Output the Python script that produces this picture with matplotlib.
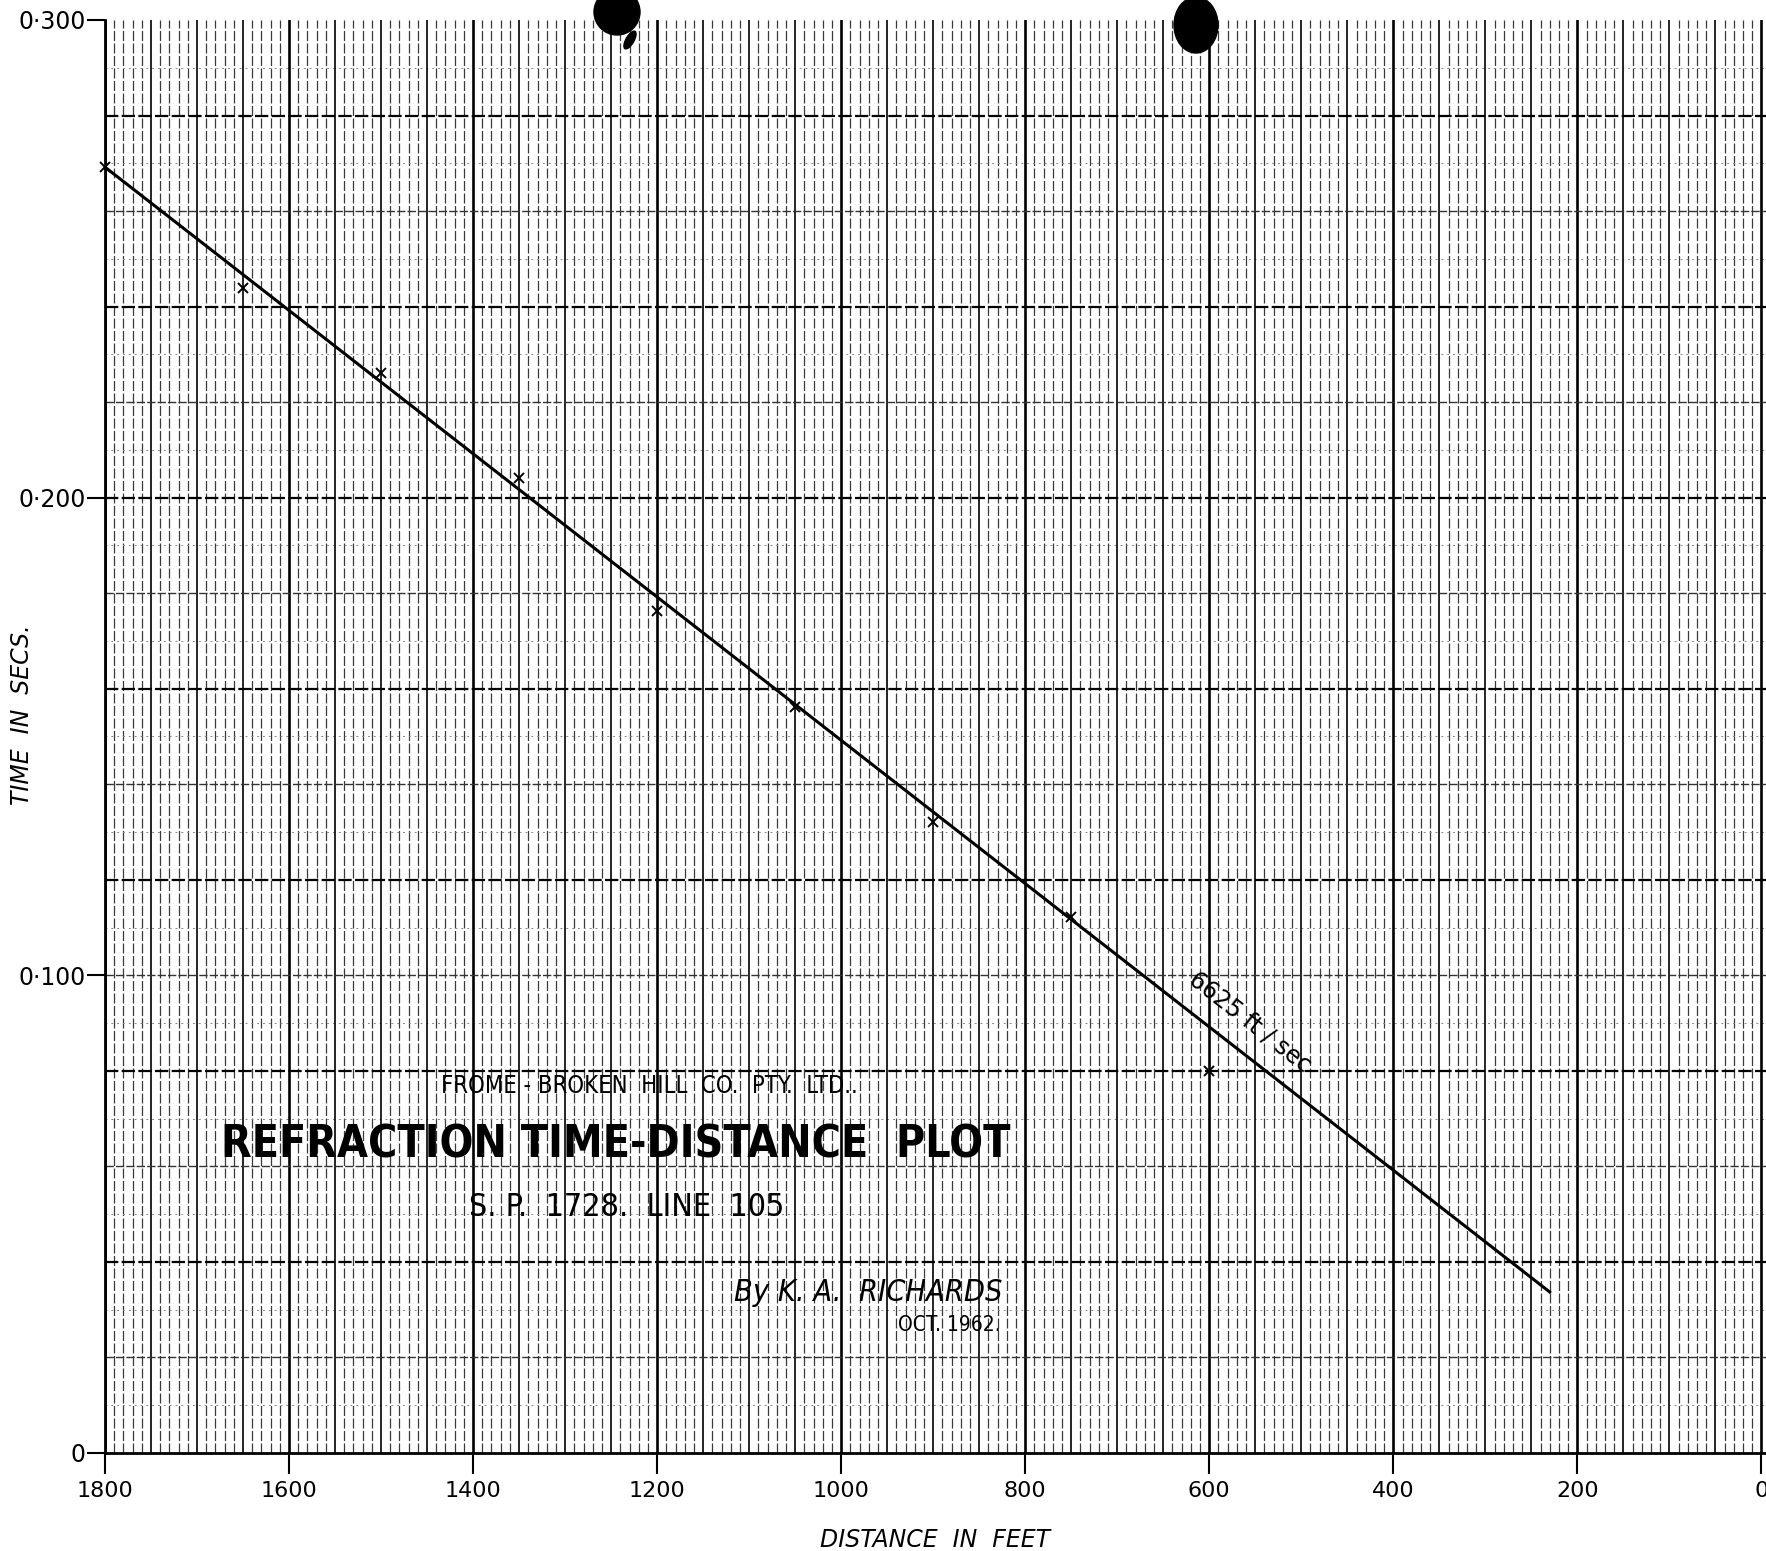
import numpy as np
import matplotlib
matplotlib.use('Agg')
import matplotlib.pyplot as plt
from matplotlib.patches import Ellipse
from matplotlib.transforms import IdentityTransform

# refraction shot readings
dist = [1800, 1650, 1500, 1350, 1200, 1050, 900, 750, 600]
time = [0.2692, 0.2439, 0.2261, 0.2041, 0.1762, 0.1561, 0.1320, 0.1123, 0.0800]

# fitted velocity line
fit_dist = [1800, 230]
fit_time = [0.2692, 0.0337]

xticks = [1800, 1600, 1400, 1200, 1000, 800, 600, 400, 200, 0]
yticks = [0, 0.1, 0.2, 0.3]
ylabels = ['0', '0·100', '0·200', '0·300']

plt.rcParams['font.family'] = ['DejaVu Sans']

fig = plt.figure(figsize=(17.66, 15.51), dpi=100)
ax = fig.add_axes([105/1766, 98/1551, 1661/1766, 1433/1551])
ax.set_xlim(1800, -5)
ax.set_ylim(0, 0.3)

# graph paper
for v in np.arange(0, 1801, 10):
    if v % 50 == 0:
        continue
    ax.axvline(v, color='#3a3a3a', lw=0.9, ls=(0, (8, 2)), zorder=0)
for v in np.arange(0, 1801, 50):
    lw = 1.9 if v % 200 == 0 else 1.2
    ax.axvline(v, color='black', lw=lw, zorder=0.5)
for h in np.arange(0.01, 0.3, 0.02):
    ax.axhline(h, color='#888888', lw=0.7, ls=(0, (2, 4)), zorder=0)
for h in np.arange(0.02, 0.3, 0.02):
    heavy = round(h / 0.02) % 2 == 0
    ax.axhline(h, color='black' if heavy else '#333333', lw=1.6 if heavy else 1.0,
               ls=(0, (6, 1.5)), zorder=0.5)

ax.plot(fit_dist, fit_time, color='black', lw=2.2, zorder=3)
ax.plot(dist, time, ls='none', marker='x', ms=7, mew=1.4, color='black',
        zorder=4, clip_on=False)

for s in ['top', 'right']:
    ax.spines[s].set_visible(False)
ax.spines['left'].set_linewidth(2)
ax.spines['bottom'].set_linewidth(2)

ax.set_xticks(xticks)
ax.set_xticklabels([str(t) for t in xticks], fontsize=16)
ax.set_yticks(yticks)
ax.set_yticklabels(ylabels, fontsize=17)
ax.tick_params(axis='x', direction='out', length=15, width=1.5, pad=5)
ax.tick_params(axis='y', direction='out', length=13, width=1.5, pad=1)

ax.set_xlabel('DISTANCE  IN  FEET', fontsize=17, style='italic')
ax.xaxis.set_label_coords(0.5, -0.052)
ax.set_ylabel('TIME  IN  SECS.', fontsize=17, style='italic')
ax.yaxis.set_label_coords(-0.043, 0.515)

# velocity annotation along the line
ax.text(556, 0.0902, '6625 ft / sec', fontsize=17, rotation=-38,
        ha='center', va='center', rotation_mode='anchor', zorder=5)

# title block
ax.text(1208, 0.0769, 'FROME - BROKEN  HILL  CO.  PTY.  LTD..', fontsize=17,
        stretch='condensed', ha='center', va='center', zorder=5)
ax.text(1245, 0.0645, 'REFRACTION TIME-DISTANCE  PLOT', fontsize=32,
        stretch='condensed', weight='bold', ha='center', va='center', zorder=5)
ax.text(1233, 0.0513, 'S. P.  1728.  LINE  105', fontsize=23,
        stretch='condensed', ha='center', va='center', zorder=5)
ax.text(825, 0.0335, 'By K. A.  RICHARDS', fontsize=22, style='italic',
        stretch='condensed', ha='right', va='center', zorder=5)
ax.text(827, 0.0268, 'OCT. 1962.', fontsize=15,
        stretch='condensed', ha='right', va='center', zorder=5)

# ink blots at top of the scan
fig.patches.append(Ellipse((617, 1551 - 12), 46, 46, transform=IdentityTransform(),
                           color='black', zorder=10))
fig.patches.append(Ellipse((630, 1551 - 40), 8, 20, angle=-30, transform=IdentityTransform(),
                           color='black', zorder=10))
fig.patches.append(Ellipse((1196, 1551 - 25), 44, 56, transform=IdentityTransform(),
                           color='black', zorder=10))

fig.savefig('out.png', dpi=100)
